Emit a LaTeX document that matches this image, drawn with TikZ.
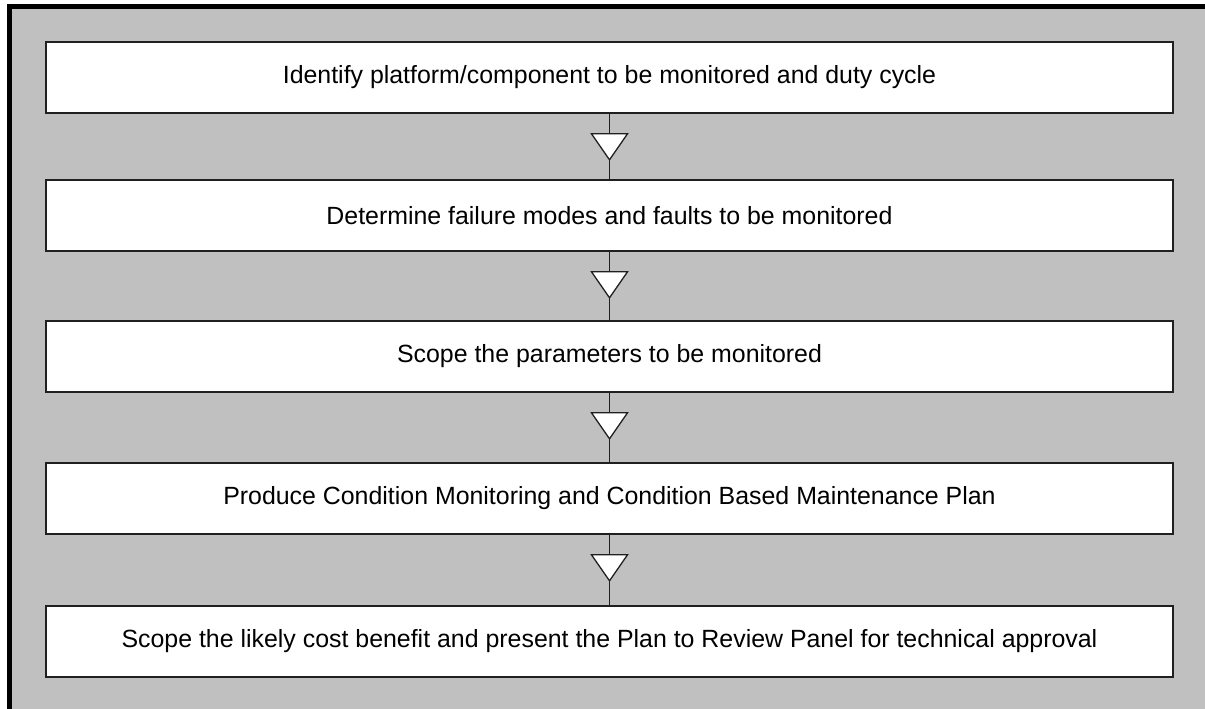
\documentclass[tikz,border=0pt]{standalone}
\usepackage{fontspec}
\setmainfont{Liberation Sans}
\usetikzlibrary{calc}
\definecolor{panelgray}{HTML}{C0C0C0}
\definecolor{edge}{HTML}{202020}
\tikzset{
  stepbox/.style={draw=edge, line width=1.6pt, fill=white, minimum width=1127pt, minimum height=71pt, inner sep=0pt, font=\fontsize{24.9}{28}\selectfont},
  link/.style={draw=edge, line width=1.4pt},
  tri/.style={draw=edge, line width=1.3pt, fill=white, line join=miter}
}
\begin{document}
\begin{tikzpicture}[x=1pt,y=-1pt]
\useasboundingbox (0,0) rectangle (1205,709);
\fill[panelgray] (11,9) rectangle (1210,715);
\draw[line width=5pt] (9,720) -- (9,6.5) -- (1215,6.5);
\node[stepbox] (b1) at (609.5,77.5) {Identify platform/component to be monitored and duty cycle};
\node[stepbox] (b2) at (609.5,215.5) {Determine failure modes and faults to be monitored};
\node[stepbox] (b3) at (609.5,356.5) {Scope the parameters to be monitored};
\node[stepbox] (b4) at (609.5,498.5) {Produce Condition Monitoring and Condition Based Maintenance Plan};
\node[stepbox] (b5) at (609.5,641.5) {Scope the likely cost benefit and present the Plan to Review Panel for technical approval};
\foreach \a/\b in {b1/b2,b2/b3,b3/b4,b4/b5}{
  \draw[link] (\a.south) -- (\b.north);
  \draw[tri] ($(\a.south)+(-18,20)$) -- ($(\a.south)+(18,20)$) -- ($(\a.south)+(0,46)$) -- cycle;
}
\end{tikzpicture}
\end{document}
